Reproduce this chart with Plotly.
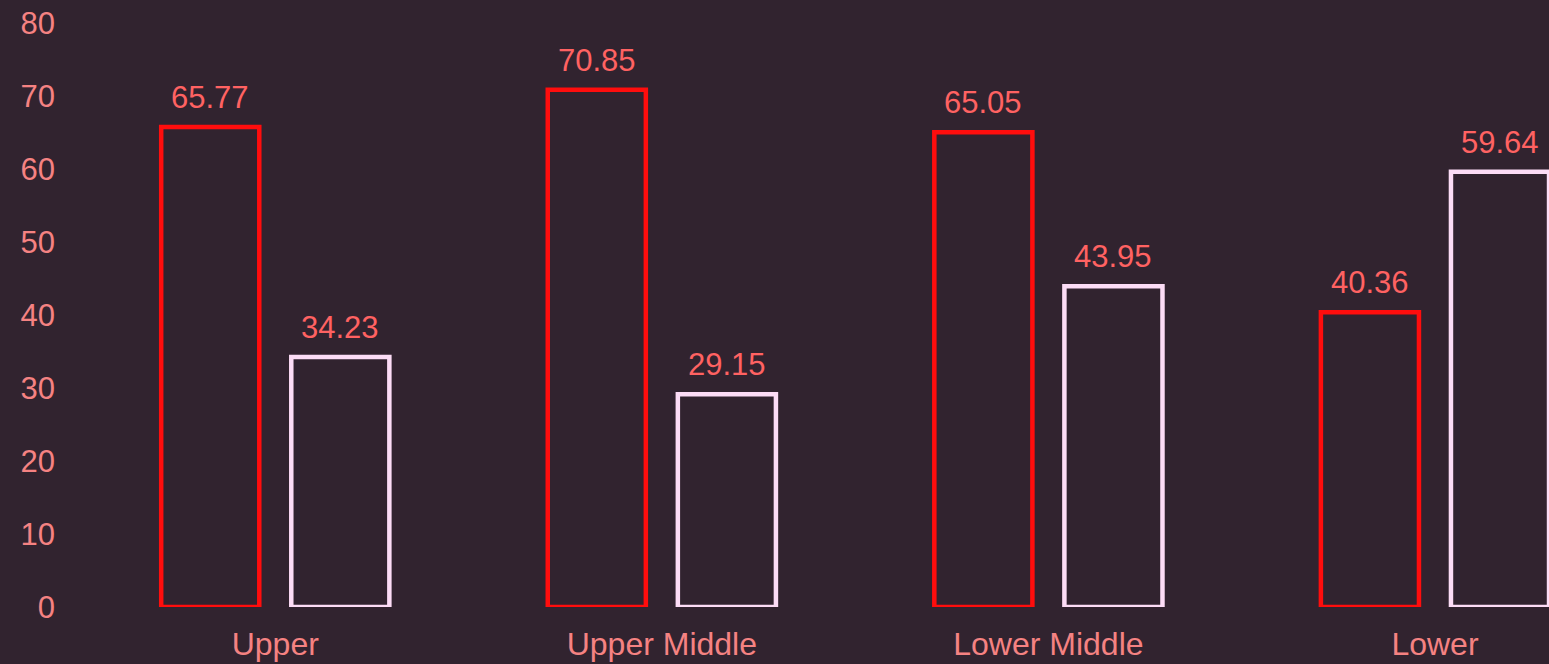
import plotly.graph_objects as go

categories = ["Upper", "Upper Middle", "Lower Middle", "Lower"]
series_a = [65.77, 70.85, 65.05, 40.36]
series_b = [34.23, 29.15, 43.95, 59.64]
y_ticks = [0, 10, 20, 30, 40, 50, 60, 70, 80]

BG = "#31232f"
RED = "#ff0d0d"
PINK = "#fcdcf6"
VAL_COLOR = "#ff6262"
TICK_COLOR = "#f58282"
FONT = "Liberation Sans, Arial, sans-serif"

fig = go.Figure()
for vals, col in [(series_a, RED), (series_b, PINK)]:
    fig.add_trace(go.Bar(
        x=categories, y=vals,
        marker=dict(color="rgba(0,0,0,0)", line=dict(color=col, width=4.5)),
        hoverinfo="skip",
    ))

# value labels above each bar (shifted to their bar within the group)
for vals, shift in [(series_a, -65), (series_b, 65)]:
    for c, v in zip(categories, vals):
        fig.add_annotation(
            x=c, y=v, text=f"{v:.2f}", showarrow=False,
            xanchor="center", yanchor="bottom", xshift=shift, yshift=10,
            font=dict(color=VAL_COLOR, size=31, family=FONT),
        )

fig.update_layout(
    width=1549, height=664,
    paper_bgcolor=BG, plot_bgcolor=BG,
    margin=dict(l=82, r=0, t=23, b=57),
    barmode="group", bargap=0.327, bargroupgap=0.246,
    showlegend=False,
    font=dict(family=FONT, color=TICK_COLOR, size=31),
    xaxis=dict(range=[-0.5, 3.295], showgrid=False, zeroline=False, showline=False,
               tickfont=dict(size=32, color=TICK_COLOR), ticklabelstandoff=15),
    yaxis=dict(range=[0, 80], tickvals=y_ticks, showgrid=False, zeroline=False,
               showline=False, tickfont=dict(size=31, color=TICK_COLOR),
               ticklabelstandoff=26),
)

fig.write_html("out.html")
